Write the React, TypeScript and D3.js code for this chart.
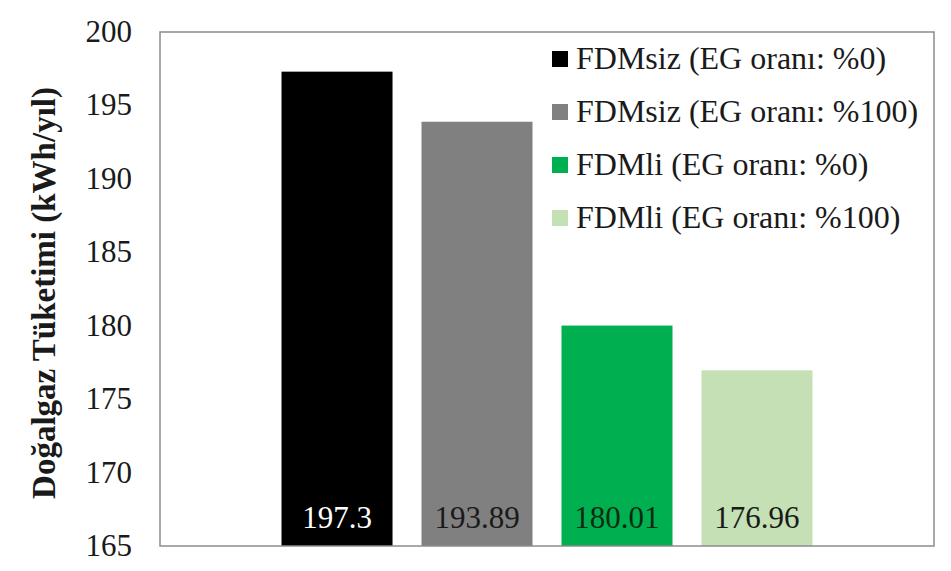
import React from "react";
import * as d3 from "d3";

const seriesNames: string[] = [
  "FDMsiz (EG oranı: %0)",
  "FDMsiz (EG oranı: %100)",
  "FDMli (EG oranı: %0)",
  "FDMli (EG oranı: %100)",
];
const seriesValues: number[] = [197.3, 193.89, 180.01, 176.96];
const valueLabels: string[] = ["197.3", "193.89", "180.01", "176.96"];
const seriesColors: string[] = ["#000000", "#808080", "#00b050", "#c5e0b4"];
const labelColors: string[] = ["#ffffff", "#1a1a1a", "#0d2a12", "#1a1a1a"];
const yTicks: number[] = [165, 170, 175, 180, 185, 190, 195, 200];
const yTitle = "Doğalgaz Tüketimi (kWh/yıl)";

const W = 951;
const H = 571;
const plot = { left: 160, right: 934, top: 32, bottom: 546 };
const FONT = "Liberation Serif";

export default function App() {
  const y = d3.scaleLinear().domain([165, 200]).range([plot.bottom, plot.top]);
  const x = d3
    .scaleBand<string>()
    .domain(seriesNames)
    .range([plot.left, plot.right])
    .paddingInner(0.207)
    .paddingOuter(0.868);

  return (
    <svg width={W} height={H} style={{ position: "absolute", left: 0, top: 0 }}>
      <rect x={0} y={0} width={W} height={H} fill="#ffffff" />
      {seriesNames.map((s, i) => (
        <rect
          key={s}
          x={x(s)}
          y={y(seriesValues[i])}
          width={x.bandwidth()}
          height={y(165) - y(seriesValues[i])}
          fill={seriesColors[i]}
        />
      ))}
      {seriesNames.map((s, i) => (
        <text
          key={"v" + s}
          x={(x(s) as number) + x.bandwidth() / 2}
          y={528}
          textAnchor="middle"
          fontSize={31}
          fill={labelColors[i]}
          style={{ fontFamily: FONT }}
        >
          {valueLabels[i]}
        </text>
      ))}
      <rect
        x={plot.left}
        y={plot.top}
        width={plot.right - plot.left}
        height={plot.bottom - plot.top}
        fill="none"
        stroke="#8c8c8c"
        strokeWidth={1.5}
      />
      {yTicks.map((t) => (
        <text
          key={t}
          x={132}
          y={y(t) + 10}
          textAnchor="end"
          fontSize={31}
          fill="#1a1a1a"
          style={{ fontFamily: FONT }}
        >
          {t}
        </text>
      ))}
      <text
        transform={`translate(55, ${(plot.top + plot.bottom) / 2 + 4}) rotate(-90)`}
        textAnchor="middle"
        fontSize={33}
        fontWeight="bold"
        fill="#1a1a1a"
        style={{ fontFamily: FONT }}
      >
        {yTitle}
      </text>
      {seriesNames.map((s, i) => {
        const cy = 59 + i * 53;
        return (
          <g key={"l" + s}>
            <rect x={552} y={cy - 8} width={16} height={16} fill={seriesColors[i]} />
            <text x={576} y={cy + 10} fontSize={32} fill="#1a1a1a" style={{ fontFamily: FONT }}>
              {s}
            </text>
          </g>
        );
      })}
    </svg>
  );
}
